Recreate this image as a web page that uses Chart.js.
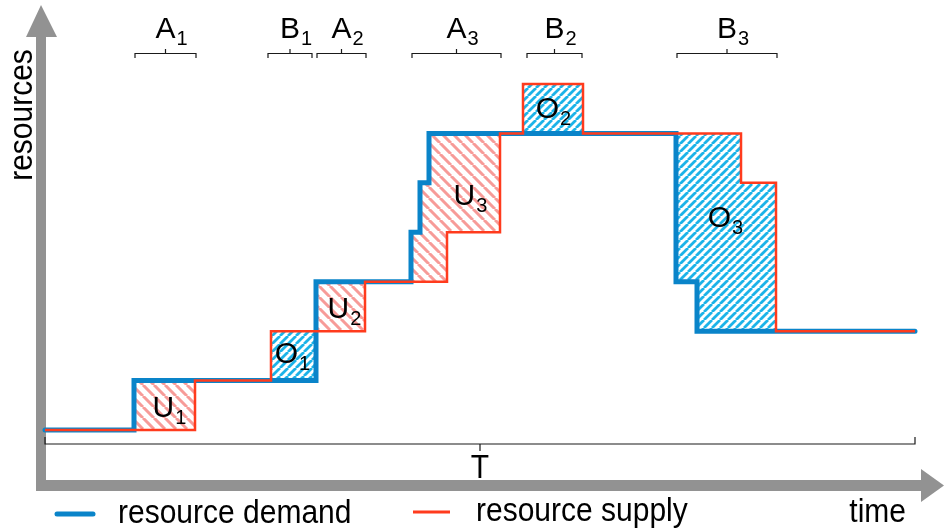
<!DOCTYPE html>
<html>
<head>
<meta charset="utf-8">
<script src="https://cdn.jsdelivr.net/npm/chart.js@4.4.0/dist/chart.umd.min.js"></script>
<style>
  html, body { margin: 0; padding: 0; background: #fff; }
  #wrap { width: 944px; height: 529px; }
</style>
</head>
<body>
<div id="wrap"><canvas id="chart"></canvas></div>
<script>
// demand / supply step functions (time units, resource levels)
const demandTime = [0, 8.9, 27.1, 36.6, 37.5, 38.4, 63.1, 65.2, 87];
const demandLevel = [0, 1, 3, 4, 5, 6, 3, 2, 2];
const supplyTime = [0, 15.0, 22.6, 32.0, 40.2, 45.5, 47.8, 53.8, 69.6, 73.1, 87];
const supplyLevel = [0, 1, 2, 3, 4, 6, 7, 6, 5, 2, 2];

// phases marked with braces on top
const phaseLetter = ["A", "B", "A", "A", "B", "B"];
const phaseIndex = ["1", "1", "2", "3", "2", "3"];
const phaseStart = [9.0, 22.3, 27.2, 36.7, 48.2, 63.2];
const phaseEnd = [15.1, 26.7, 32.1, 45.6, 53.7, 73.2];

// under / over provisioning area names
const areaLetter = ["U", "O", "U", "U", "O", "O"];
const areaIndex = ["1", "1", "2", "3", "2", "3"];
const areaTime = [12.4, 24.7, 29.9, 42.5, 50.8, 68.0];
const areaLevel = [0.26, 1.36, 2.27, 4.55, 6.31, 4.11];

const totalSpan = [0, 87];

const FONT = "'Liberation Sans', Arial, sans-serif";
const AXIS_GRAY = "#929292";

function toPoints(times, levels) {
  return times.map((t, i) => ({ x: t, y: levels[i] }));
}

function levelAt(times, levels, t) {
  let v = levels[0];
  for (let i = 0; i < times.length; i++) if (times[i] <= t) v = levels[i];
  return v;
}

function hatch(color, size, width, dir) {
  const c = document.createElement("canvas");
  c.width = c.height = size;
  const g = c.getContext("2d");
  g.strokeStyle = color;
  g.lineWidth = width;
  g.beginPath();
  for (let k = -1; k <= 1; k++) {
    if (dir > 0) { g.moveTo(k * size, size); g.lineTo(k * size + size, 0); }
    else { g.moveTo(k * size, 0); g.lineTo(k * size + size, size); }
  }
  g.stroke();
  return c;
}

function subText(ctx, letter, idx, x, y, centerOnLetter) {
  ctx.font = "30px " + FONT;
  const w1 = ctx.measureText(letter).width;
  ctx.font = "20px " + FONT;
  const w2 = ctx.measureText(idx).width;
  const x0 = centerOnLetter ? x - w1 / 2 : x - (w1 + w2) / 2;
  ctx.textAlign = "left";
  ctx.textBaseline = "alphabetic";
  ctx.fillStyle = "#000";
  ctx.font = "30px " + FONT;
  ctx.fillText(letter, x0, y);
  ctx.font = "20px " + FONT;
  ctx.fillText(idx, x0 + w1 + 1, y + 7);
}

// text a bit taller than wide, like the original labels
function tallText(ctx, text, x, y, align, angle) {
  ctx.save();
  ctx.translate(x, y);
  if (angle) ctx.rotate(angle);
  ctx.scale(1, 1.12);
  ctx.font = "30px " + FONT;
  ctx.fillStyle = "#000";
  ctx.textAlign = align;
  ctx.textBaseline = "alphabetic";
  ctx.fillText(text, 0, 0);
  ctx.restore();
}

const decorPlugin = {
  id: "decor",
  beforeDatasetsDraw(chart) {
    const { ctx, scales: { x, y } } = chart;
    ctx.save();
    // axes
    ctx.fillStyle = AXIS_GRAY;
    ctx.fillRect(36, 36, 10, 455);
    ctx.fillRect(36, 480, 886, 11);
    ctx.beginPath();
    ctx.moveTo(26, 37); ctx.lineTo(41, 5); ctx.lineTo(57, 37); ctx.closePath(); ctx.fill();
    ctx.beginPath();
    ctx.moveTo(921, 469); ctx.lineTo(944, 485.5); ctx.lineTo(921, 502); ctx.closePath(); ctx.fill();

    // hatched gaps between demand and supply
    const red = ctx.createPattern(hatch("#f79b98", 11, 3, -1), "repeat");
    const blue = ctx.createPattern(hatch("#1cb3e8", 8, 2.8, 1), "repeat");
    const cuts = [...new Set([...demandTime, ...supplyTime])].sort((a, b) => a - b);
    for (let i = 0; i < cuts.length - 1; i++) {
      const tm = (cuts[i] + cuts[i + 1]) / 2;
      const d = levelAt(demandTime, demandLevel, tm);
      const s = levelAt(supplyTime, supplyLevel, tm);
      if (d === s) continue;
      const x0 = x.getPixelForValue(cuts[i]), x1 = x.getPixelForValue(cuts[i + 1]);
      const y0 = y.getPixelForValue(Math.max(d, s)), y1 = y.getPixelForValue(Math.min(d, s));
      ctx.fillStyle = d > s ? red : blue;
      ctx.fillRect(x0, y0, x1 - x0, y1 - y0);
    }
    ctx.restore();
  },
  afterDatasetsDraw(chart) {
    const { ctx, scales: { x, y } } = chart;
    ctx.save();
    ctx.lineWidth = 1.2;
    ctx.strokeStyle = "#1a1a1a";
    // phase braces
    for (let i = 0; i < phaseLetter.length; i++) {
      const a = x.getPixelForValue(phaseStart[i]), b = x.getPixelForValue(phaseEnd[i]);
      const m = (a + b) / 2, by = 53.5;
      ctx.beginPath();
      ctx.moveTo(a, 58); ctx.lineTo(a, by); ctx.lineTo(b, by); ctx.lineTo(b, 58);
      ctx.moveTo(m, by); ctx.lineTo(m, 49);
      ctx.stroke();
      subText(ctx, phaseLetter[i], phaseIndex[i], m, 38, true);
    }
    // total span brace
    const ta = x.getPixelForValue(totalSpan[0]), tb = x.getPixelForValue(totalSpan[1]);
    const tm = (ta + tb) / 2;
    ctx.beginPath();
    ctx.moveTo(ta, 437); ctx.lineTo(ta, 444); ctx.lineTo(tb, 444); ctx.lineTo(tb, 437);
    ctx.moveTo(tm, 444); ctx.lineTo(tm, 451);
    ctx.stroke();
    tallText(ctx, "T", tm, 478, "center");

    // area labels
    for (let i = 0; i < areaLetter.length; i++) {
      subText(ctx, areaLetter[i], areaIndex[i], x.getPixelForValue(areaTime[i]), y.getPixelForValue(areaLevel[i]), false);
    }

    // axis titles
    tallText(ctx, "time", 906, 522, "right");
    tallText(ctx, "resources", 32, 115, "center", -Math.PI / 2);

    // legend
    const ds = chart.data.datasets;
    ctx.lineCap = "round";
    ctx.strokeStyle = ds[0].borderColor; ctx.lineWidth = 5;
    ctx.beginPath(); ctx.moveTo(57, 514); ctx.lineTo(93, 514); ctx.stroke();
    ctx.lineCap = "butt";
    ctx.strokeStyle = ds[1].borderColor; ctx.lineWidth = 3;
    ctx.beginPath(); ctx.moveTo(413, 512); ctx.lineTo(450, 512); ctx.stroke();
    tallText(ctx, ds[0].label, 118, 523, "left");
    tallText(ctx, ds[1].label, 476, 521, "left");
    ctx.restore();
  }
};

new Chart(document.getElementById("chart"), {
  type: "line",
  data: {
    datasets: [
      {
        label: "resource demand",
        data: toPoints(demandTime, demandLevel),
        stepped: true,
        borderColor: "#0a84c9",
        borderWidth: 5,
        borderCapStyle: "round",
        pointRadius: 0,
        clip: false,
        order: 1
      },
      {
        label: "resource supply",
        data: toPoints(supplyTime, supplyLevel),
        stepped: true,
        borderColor: "#ff3b1d",
        borderWidth: 2.5,
        pointRadius: 0,
        clip: false,
        order: 0
      }
    ]
  },
  options: {
    responsive: true,
    maintainAspectRatio: false,
    animation: false,
    devicePixelRatio: 1,
    layout: { padding: { left: 45, right: 29, top: 84, bottom: 99 } },
    plugins: { legend: { display: false }, tooltip: { enabled: false } },
    scales: {
      x: { type: "linear", min: totalSpan[0], max: totalSpan[1], display: false },
      y: { type: "linear", min: 0, max: 7, display: false }
    }
  },
  plugins: [decorPlugin]
});
</script>
</body>
</html>
